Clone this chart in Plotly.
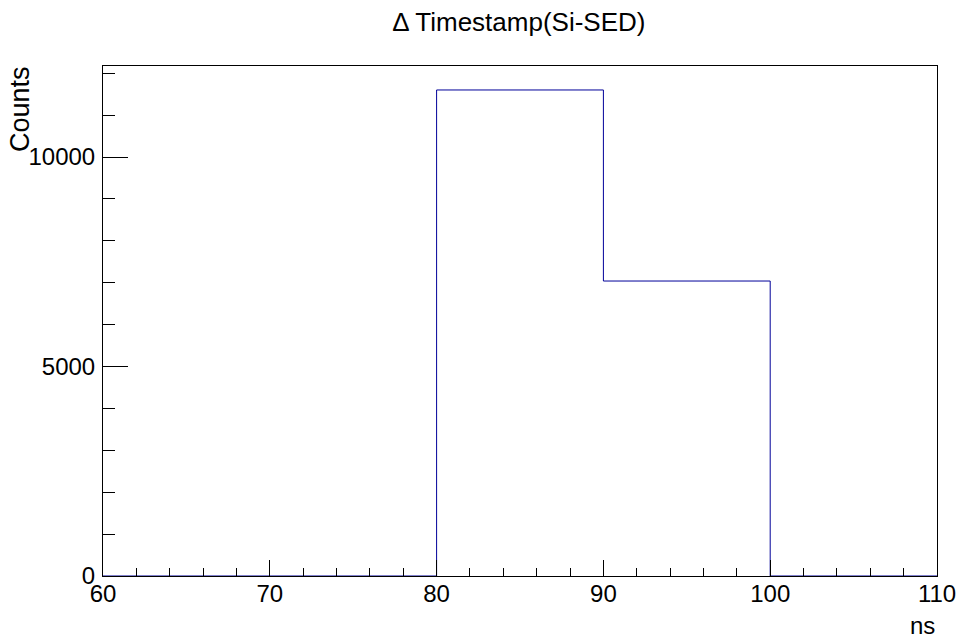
import plotly.graph_objects as go

bin_edges = [60, 70, 80, 90, 100, 110]
counts = [0, 0, 11600, 7040, 0]
title = "\u0394 Timestamp(Si-SED)"
x_title = "ns"
y_title = "Counts"
x_tick_vals = [60, 70, 80, 90, 100, 110]
y_tick_vals = [0, 5000, 10000]
y_tick_text = ["0", "5000", "10000"]

xs = bin_edges
ys = counts + [counts[-1]]

FONT = "Liberation Sans, Arial, Helvetica, sans-serif"

fig = go.Figure()
fig.add_trace(go.Scatter(x=xs, y=ys, mode="lines", line=dict(shape="hv", color="#000099", width=1),
                         hoverinfo="skip", showlegend=False))

fig.update_layout(
    width=959, height=637,
    margin=dict(l=103, r=22, t=66, b=61, autoexpand=False),
    paper_bgcolor="white", plot_bgcolor="white",
    font=dict(family=FONT, size=23, color="black"),
    title=dict(text=title, x=0.541, xanchor="center", y=0.965, yanchor="middle",
               font=dict(family=FONT, size=26, color="black")),
    showlegend=False,
)
fig.update_xaxes(range=[60, 110], tickvals=x_tick_vals, ticks="inside", ticklen=16,
                 tickcolor="black", tickwidth=1, showline=True, linecolor="black", linewidth=1,
                 mirror=True, showgrid=False, zeroline=False, ticklabeloverflow="allow",
                 minor=dict(dtick=2, ticks="inside", ticklen=8, tickcolor="black", showgrid=False),
                 tickfont=dict(size=24), ticklabelstandoff=-4)
fig.update_yaxes(range=[0, 12172], tickvals=y_tick_vals, ticktext=y_tick_text, ticks="inside", ticklen=25,
                 tickcolor="black", tickwidth=1, showline=True, linecolor="black", linewidth=1,
                 mirror=True, showgrid=False, zeroline=False, ticklabeloverflow="allow",
                 minor=dict(dtick=1000, ticks="inside", ticklen=12, tickcolor="black", showgrid=False),
                 tickfont=dict(size=24), ticklabelstandoff=2)

fig.add_annotation(text=x_title, xref="paper", yref="paper", x=1.0, y=0, xanchor="right",
                   yanchor="middle", yshift=-49, showarrow=False, font=dict(size=24))
fig.add_annotation(text=y_title, xref="paper", yref="paper", x=0, y=1.0, xanchor="center",
                   yanchor="top", xshift=-83, yshift=2, textangle=-90, showarrow=False,
                   font=dict(size=27))

fig.write_html("out.html", config={"displayModeBar": False},
               post_script="document.body.style.margin='0';")
